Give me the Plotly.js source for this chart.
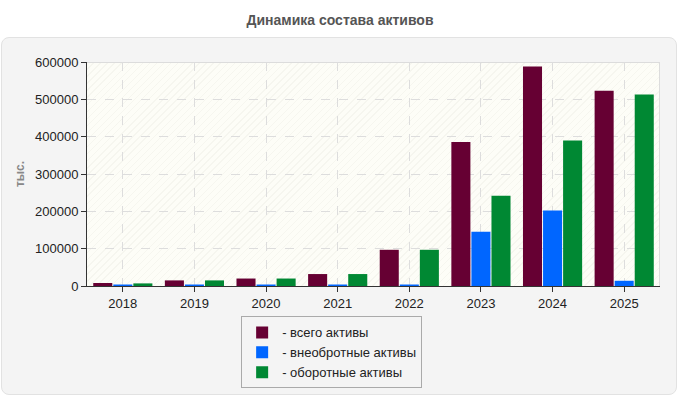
<!DOCTYPE html>
<html>
<head>
<meta charset="utf-8">
<script src="https://cdn.plot.ly/plotly-3.0.1.min.js"></script>
<style>
html,body{margin:0;padding:0;background:#fff;}
#wrap{position:relative;width:680px;height:400px;}
#panel{position:absolute;left:1px;top:37px;width:676px;height:358px;background:#f4f4f4;border:1px solid #e2e2e2;border-radius:8px;box-sizing:border-box;}
#plotbg{position:absolute;left:87px;top:62px;width:573px;height:224px;box-sizing:border-box;border-top:1px solid #dcdcdc;border-right:1px solid #dcdcdc;
background-color:#fdfdf7;background-image:repeating-linear-gradient(135deg,rgba(0,0,0,0) 0px,rgba(0,0,0,0) 4px,rgba(225,225,215,0.25) 4px,rgba(225,225,215,0.25) 5px);}
#chart{position:absolute;left:0;top:0;width:680px;height:400px;}
</style>
</head>
<body>
<div id="wrap">
<div id="panel"></div>
<div id="plotbg"></div>
<div id="chart"></div>
</div>
<script>
var years = ['2018','2019','2020','2021','2022','2023','2024','2025'];
var totalAssets = [8000, 15000, 20000, 32000, 97000, 386000, 588000, 523000];
var nonCurrentAssets = [4000, 4000, 4000, 4000, 4000, 145000, 202000, 14000];
var currentAssets = [7000, 15000, 20000, 32000, 97000, 242000, 390000, 513000];
var seriesNames = ['- всего активы', '- внеобротные активы', '- оборотные активы'];
var seriesColors = ['#660033', '#0066ff', '#008833'];
var yTicks = [0, 100000, 200000, 300000, 400000, 500000, 600000];

var seriesValues = [totalAssets, nonCurrentAssets, currentAssets];
var traces = seriesValues.map(function(vals, i){
  return {
    type: 'bar',
    x: years,
    y: vals,
    name: seriesNames[i],
    marker: {color: seriesColors[i], line: {width: 0}},
    hoverinfo: 'x+y'
  };
});

var layout = {
  width: 680, height: 400,
  margin: {l: 87, r: 20, t: 62, b: 114},
  paper_bgcolor: 'rgba(0,0,0,0)',
  plot_bgcolor: 'rgba(0,0,0,0)',
  font: {family: 'Liberation Sans, Arial, sans-serif', size: 12, color: '#222'},
  title: {text: '<b>Динамика состава активов</b>', x: 0.5, xref: 'container', y: 1 - 20/400, yref: 'container', yanchor: 'middle',
          font: {family: 'Liberation Sans, Arial, sans-serif', size: 14, color: '#555'}},
  barmode: 'group',
  bargap: 0.16,
  bargroupgap: 0.05,
  showlegend: true,
  legend: {
    x: 0.269, xanchor: 'left', y: -0.136, yanchor: 'top',
    orientation: 'v',
    bgcolor: '#f4f4f4', bordercolor: '#aaaaaa', borderwidth: 1,
    font: {size: 13, color: '#222'},
    traceorder: 'normal', tracegroupgap: 0
  },
  xaxis: {
    type: 'category',
    showline: true, linecolor: '#333', linewidth: 1,
    ticks: 'outside', ticklen: 5, tickcolor: '#333',
    showgrid: true, gridcolor: '#dddddd', griddash: 'dash', gridwidth: 1,
    tickfont: {size: 13, color: '#222'},
    tickangle: 0,
    automargin: false,
    fixedrange: true
  },
  yaxis: {
    range: [0, 600000],
    tickvals: yTicks,
    ticktext: yTicks.map(String),
    showline: true, linecolor: '#333', linewidth: 1,
    ticks: 'outside', ticklen: 5, tickcolor: '#333',
    showgrid: true, gridcolor: '#dddddd', griddash: 'dash', gridwidth: 1,
    zeroline: false,
    tickfont: {size: 13, color: '#222'},
    title: {text: '<b>тыс.</b>', font: {size: 12, color: '#888'}, standoff: 7},
    automargin: false,
    fixedrange: true
  }
};

Plotly.newPlot('chart', traces, layout, {displayModeBar: false, staticPlot: true});
</script>
</body>
</html>
